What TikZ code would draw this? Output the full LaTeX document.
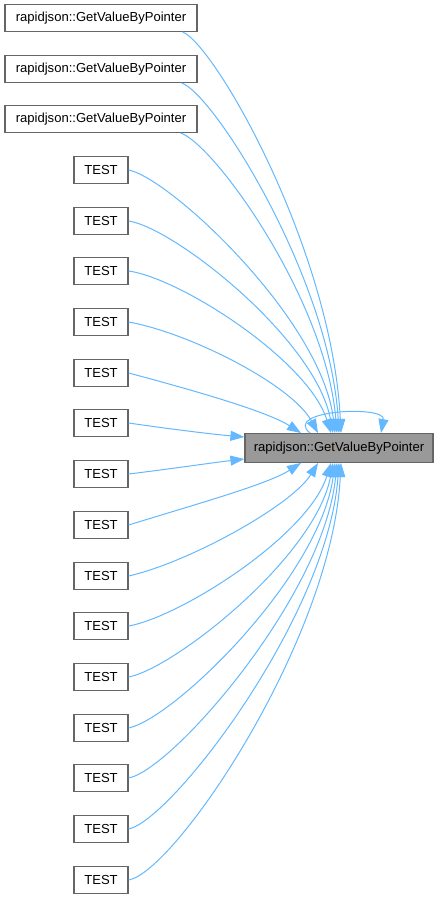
\documentclass[tikz,border=0pt]{standalone}
\usepackage{fontspec}
\setmainfont{Liberation Sans}
\usetikzlibrary{arrows.meta,calc}
\definecolor{edgeblue}{HTML}{63B8FF}
\definecolor{boxborder}{HTML}{666666}
\definecolor{tgtfill}{HTML}{999999}
\begin{document}
\begin{tikzpicture}[x=0.75pt,y=-0.75pt,
  fbox/.style={draw=boxborder,line width=0.9pt,fill=white,inner sep=0pt,
    minimum height=20pt,font=\fontsize{9.8}{11.5}\selectfont,text=black},
  longbox/.style={fbox,minimum width=144pt},
  testbox/.style={fbox,minimum width=40.5pt},
  tgtbox/.style={fbox,fill=tgtfill,minimum width=141pt,minimum height=21.5pt},
  edge/.style={draw=edgeblue,line width=0.75pt,
    -{Triangle[length=10.5pt,width=7.5pt,fill=edgeblue]}}]
\useasboundingbox (0,0) rectangle (443,899);
% target
\node[tgtbox] (tgt) at (339,448) {rapidjson::GetValueByPointer};
% sources
\node[longbox] (r1) at (101,18) {rapidjson::GetValueByPointer};
\node[longbox] (r2) at (101,69) {rapidjson::GetValueByPointer};
\node[longbox] (r3) at (101,119) {rapidjson::GetValueByPointer};
\node[testbox] (t1) at (101,170) {TEST};
\node[testbox] (t2) at (101,221) {TEST};
\node[testbox] (t3) at (101,271) {TEST};
\node[testbox] (t4) at (101,322) {TEST};
\node[testbox] (t5) at (101,373) {TEST};
\node[testbox] (t6) at (101,423) {TEST};
\node[testbox] (t7) at (101,474) {TEST};
\node[testbox] (t8) at (101,525) {TEST};
\node[testbox] (t9) at (101,576) {TEST};
\node[testbox] (t10) at (101,626) {TEST};
\node[testbox] (t11) at (101,677) {TEST};
\node[testbox] (t12) at (101,728) {TEST};
\node[testbox] (t13) at (101,778) {TEST};
\node[testbox] (t14) at (101,829) {TEST};
\node[testbox] (t15) at (101,880) {TEST};
% edges from above
\draw[edge] ($(r1.south east)+(-15,0)$) .. controls (215,45) and (332,250) .. ($(tgt.north)+(2,0)$);
\draw[edge] ($(r2.south east)+(-16,0)$) .. controls (215,95) and (330,280) .. ($(tgt.north)+(0,0)$);
\draw[edge] ($(r3.south east)+(-17,0)$) .. controls (215,145) and (326,300) .. ($(tgt.north)+(-2,0)$);
\draw[edge] (t1.east) .. controls (170,178) and (322,320) .. ($(tgt.north)+(-4,0)$);
\draw[edge] (t2.east) .. controls (175,228) and (316,340) .. ($(tgt.north)+(-6,0)$);
\draw[edge] (t3.east) .. controls (180,278) and (308,360) .. ($(tgt.north)+(-8,0)$);
\draw[edge] (t4.east) .. controls (190,333) and (292,385) .. ($(tgt.north)+(-21,0)$);
\draw[edge] (t5.east) .. controls (200,392) and (268,412) .. ($(tgt.north)+(-38,0)$);
% edges from the left
\draw[edge] (t6.east) .. controls (170,429) and (210,434) .. ($(tgt.west)+(0,-11)$);
\draw[edge] (t7.east) .. controls (170,469) and (210,463) .. ($(tgt.west)+(0,11)$);
% edges from below
\draw[edge] (t8.east) .. controls (200,503) and (268,484) .. ($(tgt.south)+(-38,0)$);
\draw[edge] (t9.east) .. controls (190,562) and (292,505) .. ($(tgt.south)+(-21,0)$);
\draw[edge] (t10.east) .. controls (180,617) and (308,536) .. ($(tgt.south)+(-8,0)$);
\draw[edge] (t11.east) .. controls (175,668) and (316,556) .. ($(tgt.south)+(-6,0)$);
\draw[edge] (t12.east) .. controls (175,718) and (320,576) .. ($(tgt.south)+(-4,0)$);
\draw[edge] (t13.east) .. controls (172,770) and (324,596) .. ($(tgt.south)+(-2,0)$);
\draw[edge] (t14.east) .. controls (172,820) and (328,616) .. ($(tgt.south)+(0,0)$);
\draw[edge] (t15.east) .. controls (175,872) and (332,640) .. ($(tgt.south)+(2,0)$);
% self loop
\draw[edge] ($(tgt.north)+(-29,0)$) .. controls (282,410) and (386,405) .. ($(tgt.north)+(42,0)$);
\end{tikzpicture}
\end{document}
